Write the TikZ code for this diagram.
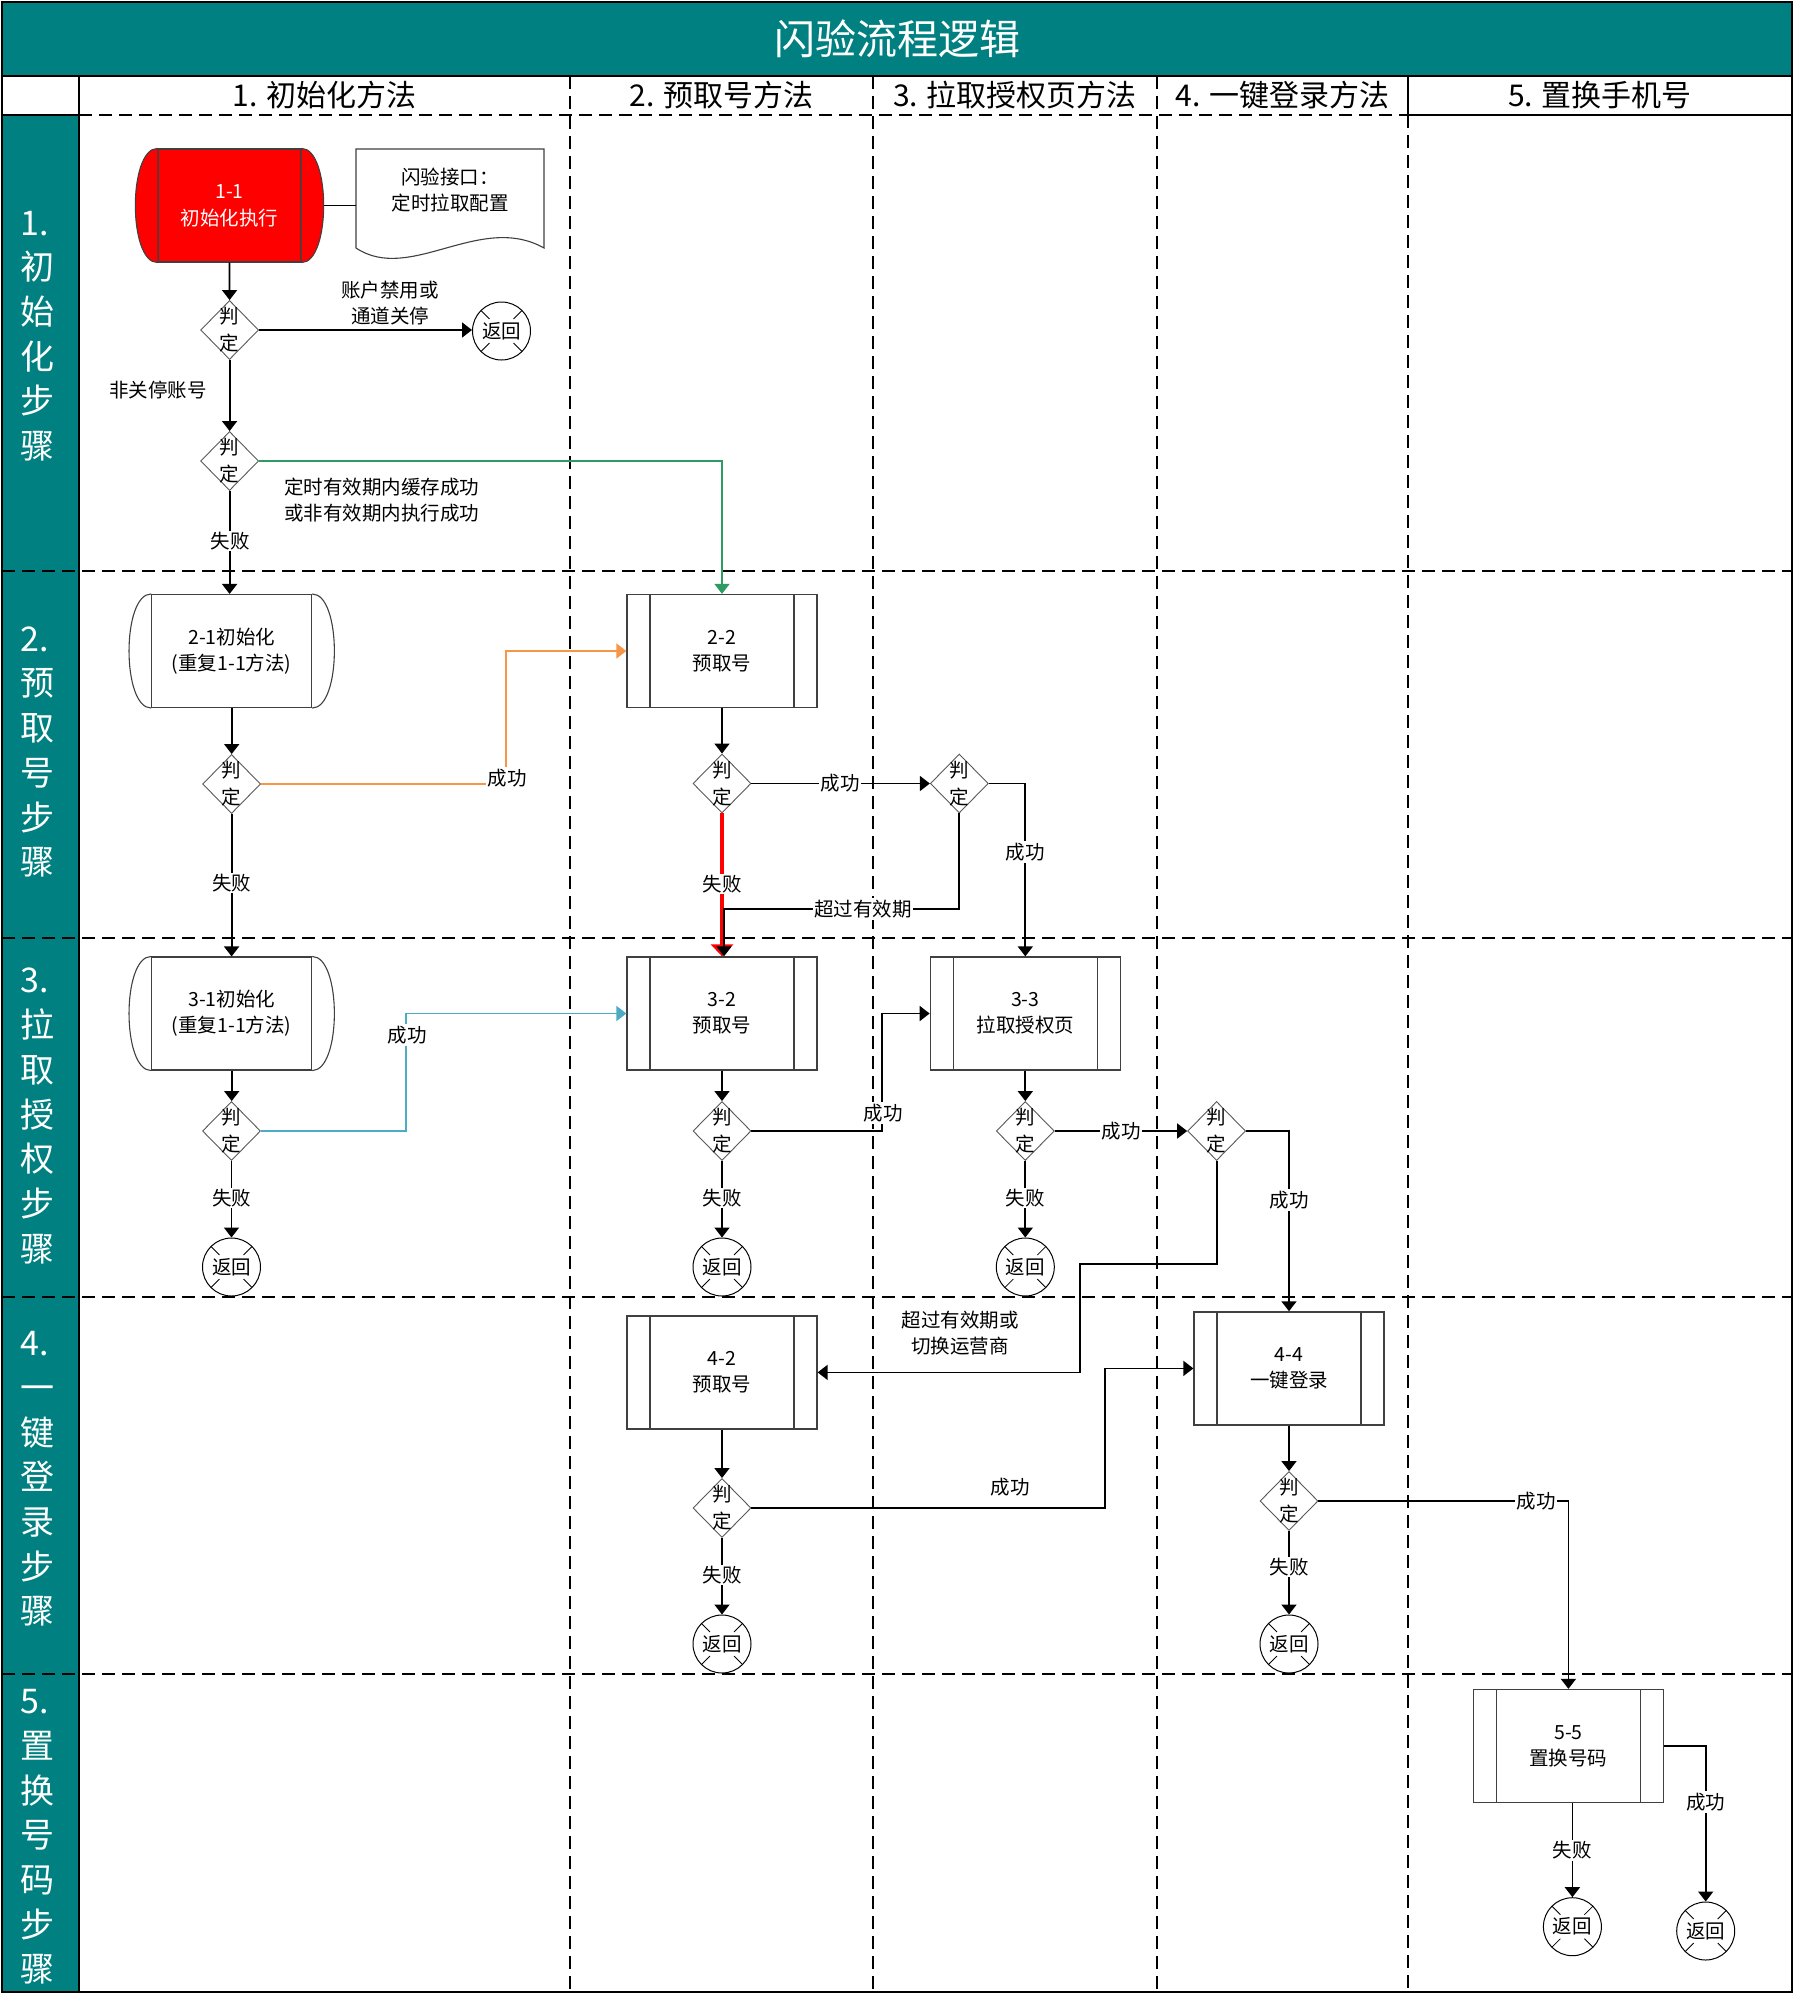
\documentclass[tikz,border=0pt]{standalone}
\usepackage{fontspec}
\setmainfont{Noto Sans CJK SC}
\usetikzlibrary{arrows.meta,shapes.geometric,calc}
\definecolor{teal1}{HTML}{008080}
\definecolor{grn}{HTML}{2E9B62}
\definecolor{org}{HTML}{F79646}
\definecolor{blu}{HTML}{4BACC6}
\definecolor{sgray}{HTML}{404040}
\definecolor{dgray}{HTML}{595959}
\newcommand\bx{\fontsize{19.5pt}{26pt}\selectfont}
\newcommand\bulgeside[2][]{%
  \draw[sgray, line width=1.1pt, #1] (#2.north west) .. controls +(-29.5,0) and +(-29.5,0) .. (#2.south west)
    (#2.north east) .. controls +(29.5,0) and +(29.5,0) .. (#2.south east);}
\begin{document}
\begin{tikzpicture}[x=1pt,y=-1pt,
  griddash/.style={line width=1.8pt, dash pattern=on 13pt off 7pt},
  conn/.style={line width=1.8pt, -{Triangle[length=10pt,width=15pt]}},
  subbox/.style={draw=sgray, line width=1.3pt, minimum width=190pt, minimum height=113pt, inner sep=0pt, align=center, font=\bx,
    path picture={\draw[sgray, line width=1.1pt]
      ([xshift=23pt]path picture bounding box.north west) -- ([xshift=23pt]path picture bounding box.south west)
      ([xshift=-23pt]path picture bounding box.north east) -- ([xshift=-23pt]path picture bounding box.south east);}},
  initbox/.style={draw=sgray, line width=1.1pt, minimum height=113pt, inner sep=0pt, align=center, font=\bx},
  judge/.style={diamond, draw=dgray, line width=0.9pt, minimum width=58pt, minimum height=59pt, inner sep=0pt,
    label={[font=\fontsize{19.5pt}{27pt}\selectfont, align=center]center:{判\\定}}},
  ret/.style={circle, draw=black, line width=1pt, minimum size=58pt, inner sep=0pt, font=\bx,
    path picture={\foreach \a in {45,135,225,315}{\draw[line width=0.8pt]
      ($(path picture bounding box.center)+(\a:17pt)$) -- ($(path picture bounding box.center)+(\a:30pt)$);}}},
  lbl/.style={font=\bx, fill=white, inner sep=1.5pt},
  txt/.style={font=\bx, align=center, inner sep=0pt},
  hdr/.style={font=\fontsize{30pt}{30pt}\selectfont, inner sep=0pt},
  lane/.style={font=\fontsize{34pt}{44.7pt}\selectfont, text=white, align=left, anchor=west, inner sep=0pt}]
\useasboundingbox (0,0) rectangle (1794,2007);
\fill[white] (0,0) rectangle (1794,2007);
% ---------- frame ----------
\fill[teal1] (2,2) rectangle (1792,76);
\fill[teal1] (2,115) rectangle (79,1992);
\node[font=\fontsize{41pt}{41pt}\selectfont, text=white] (title) at (897,39) {闪验流程逻辑};
\node[hdr] (h1) at (324.5,95) {1. 初始化方法};
\node[hdr] (h2) at (721.5,95) {2. 预取号方法};
\node[hdr] (h3) at (1015,95) {3. 拉取授权页方法};
\node[hdr] (h4) at (1282.5,95) {4. 一键登录方法};
\node[hdr] (h5) at (1600,95) {5. 置换手机号};
\node[lane] (l1) at (20,336) {1.\\初\\始\\化\\步\\骤};
\node[lane] (l2) at (20,752) {2.\\预\\取\\号\\步\\骤};
\node[lane] (l3) at (20,1116) {3.\\拉\\取\\授\\权\\步\\骤};
\node[lane] (l4) at (20,1479) {4.\\一\\键\\登\\录\\步\\骤};
\node[lane] (l5) at (20,1837) {5.\\置\\换\\号\\码\\步\\骤};
\draw[line width=2pt] (2,76) -- (1792,76);
\draw[griddash] (79,115) -- (1408,115);
\draw[line width=2pt] (2,115) -- (79,115) (1408,115) -- (1792,115);
\draw[line width=2pt] (79,76) -- (79,1992);
\draw[line width=2pt] (1408,76) -- (1408,115);
\foreach \x in {570,873,1157} \draw[griddash] (\x,76) -- (\x,1992);
\draw[griddash] (1408,115) -- (1408,1992);
\foreach \y in {571,938,1297,1674} \draw[griddash] (2,\y) -- (1792,\y);
\draw[line width=2.5pt] (2,2) rectangle (1792,1992);
% ---------- nodes ----------
\node[initbox, fill=red, text=white, minimum width=143pt, font=\fontsize{19.5pt}{27pt}\selectfont] (n11) at (229.5,205.5) {1-1\\初始化执行};
\bulgeside[fill=red]{n11}
\draw[sgray, line width=1.1pt] (356,149) -- (544,149) -- (544,248) .. controls (480,212) and (410,284) .. (356,248) -- cycle;
\node[minimum width=188pt, minimum height=113pt, inner sep=0pt,
  label={[font=\bx, align=center, yshift=15pt]center:{闪验接口：\\定时拉取配置}}] (doc) at (450,205.5) {};
\node[judge] (d11) at (229.6,330) {};
\node[ret] (r11) at (501.5,331) {返回};
\node[judge] (d12) at (229.6,461) {};
\node[initbox, minimum width=160pt] (n21) at (231.7,651) {2-1初始化\\(重复1-1方法)};
\bulgeside{n21}
\node[judge] (d21) at (231.6,784) {};
\node[subbox] (n22) at (722,651) {2-2\\预取号};
\node[judge] (d22) at (722,783.5) {};
\node[judge] (d23) at (959.3,783.5) {};
\node[initbox, minimum width=160pt] (n31) at (231.7,1013.5) {3-1初始化\\(重复1-1方法)};
\bulgeside{n31}
\node[judge] (d31) at (231.5,1131) {};
\node[ret] (r31) at (231.5,1267) {返回};
\node[subbox] (n32) at (722,1013.5) {3-2\\预取号};
\node[judge] (d32) at (722,1131) {};
\node[ret] (r32) at (722,1267) {返回};
\node[subbox] (n33) at (1025.3,1013.5) {3-3\\拉取授权页};
\node[judge] (d33) at (1025.3,1131) {};
\node[ret] (r33) at (1025.3,1267) {返回};
\node[judge] (d34) at (1216.6,1131) {};
\node[subbox] (n42) at (722,1372.4) {4-2\\预取号};
\node[judge] (d42) at (722,1508) {};
\node[ret] (r42) at (722,1644) {返回};
\node[subbox] (n44) at (1289,1368.4) {4-4\\一键登录};
\node[judge] (d44) at (1289,1501) {};
\node[ret] (r44) at (1289,1644) {返回};
\node[subbox] (n55) at (1568.4,1746) {5-5\\置换号码};
\node[ret] (r55a) at (1572.4,1926.7) {返回};
\node[ret] (r55b) at (1705.7,1931) {返回};
% ---------- connectors ----------
\draw[line width=1.8pt] ([xshift=22pt]n11.east) -- (doc.west);
\draw[conn] (n11.south) -- (d11.north);
\draw[conn] (d11.east) -- (d11.east -| r11.west);
\draw[conn] (d11.south) -- (d12.north);
\draw[conn, grn] (d12.east) -| (n22.north);
\draw[conn] (d12.south) -- (d12.south |- n21.north);
\draw[conn] (n21.south) -- (n21.south |- d21.north);
\draw[conn, org] (d21.east) -| ([xshift=-120pt]n22.west) -- (n22.west);
\draw[conn] (d21.south) -- (d21.south |- n31.north);
\draw[conn] (n31.south) -- (n31.south |- d31.north);
\draw[conn, blu] (d31.east) -| ([xshift=-220pt]n32.west) -- (n32.west);
\draw[conn] (d31.south) -- (r31.north);
\draw[conn] (n22.south) -- (d22.north);
\draw[conn] (d22.east) -- (d23.west);
\draw[conn] (d23.east) -| (n33.north);
\draw[red, line width=4pt, -{Triangle[length=12pt,width=22pt]}] (d22.south) -- (n32.north);
\coordinate (c1) at (724,909);
\draw[conn] (d23.south) |- (c1) -- (c1 |- n32.north);
\draw[conn] (n32.south) -- (d32.north);
\draw[conn] (d32.east) -| ([xshift=-48pt]n33.west) -- (n33.west);
\draw[conn] (d32.south) -- (r32.north);
\draw[conn] (n33.south) -- (d33.north);
\draw[conn] (d33.east) -- (d34.west);
\draw[conn] (d33.south) -- (r33.north);
\draw[conn] (d34.east) -| (n44.north);
\coordinate (c2) at (1080,1264);
\draw[conn] (d34.south) |- (c2) |- (n42.east);
\draw[conn] (n42.south) -- (d42.north);
\draw[conn] (d42.east) -| ([xshift=-88pt]n44.west) -- (n44.west);
\draw[conn] (d42.south) -- (r42.north);
\draw[conn] (n44.south) -- (d44.north);
\draw[conn] (d44.east) -| (n55.north);
\draw[conn] (d44.south) -- (r44.north);
\draw[conn] (n55.east) -| (r55b.north);
\draw[conn] ([xshift=4pt]n55.south) -- (r55a.north);
% ---------- labels ----------
\node[txt] (t1) at (390,303.5) {账户禁用或\\通道关停};
\node[txt] (t2) at (158,390) {非关停账号};
\node[txt, align=left, anchor=west] (t3) at (284,500) {定时有效期内缓存成功\\或非有效期内执行成功};
\node[lbl] (t4) at (230,541) {失败};
\node[lbl] (t5) at (507,778) {成功};
\node[lbl] (t6) at (231.6,883) {失败};
\node[lbl] (t7) at (840,783.5) {成功};
\node[lbl] (t8) at (1025.3,852) {成功};
\node[lbl] (t9) at (722,884) {失败};
\node[lbl] (t10) at (863,909) {超过有效期};
\node[lbl] (t11) at (407,1035) {成功};
\node[lbl] (t12) at (231.5,1198) {失败};
\node[lbl] (t13) at (883,1113) {成功};
\node[lbl] (t14) at (722,1198) {失败};
\node[lbl] (t15) at (1121,1131) {成功};
\node[lbl] (t16) at (1025.3,1198) {失败};
\node[lbl] (t17) at (1289,1200) {成功};
\node[txt] (t18) at (960,1333) {超过有效期或\\切换运营商};
\node[txt] (t19) at (1010,1487) {成功};
\node[lbl] (t20) at (722,1575) {失败};
\node[lbl] (t21) at (1536,1501) {成功};
\node[lbl] (t22) at (1289,1567) {失败};
\node[lbl] (t23) at (1705.7,1802) {成功};
\node[lbl] (t24) at (1572.4,1850) {失败};
\end{tikzpicture}
\end{document}
